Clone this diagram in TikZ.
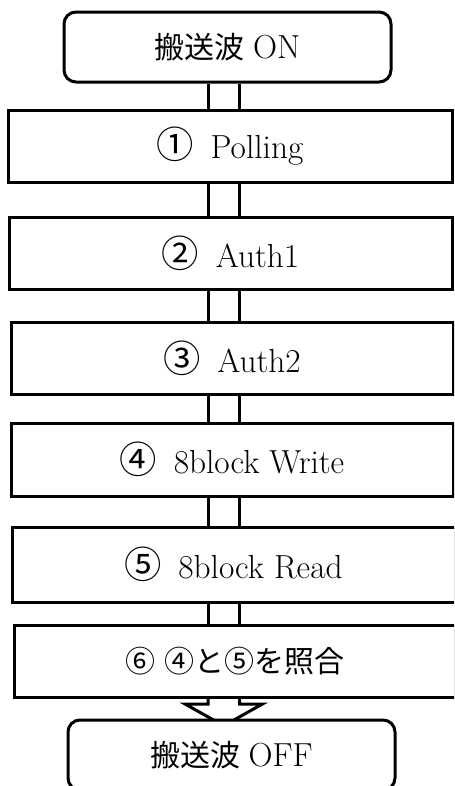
\documentclass[tikz,border=0pt]{standalone}
\usepackage{fontspec}
\newfontfamily\cjk{Noto Sans CJK JP}
\newcommand{\cnum}[1]{{\cjk\fontsize{28}{30}\selectfont #1}}
\pgfdeclarelayer{bg}
\pgfsetlayers{bg,main}
\tikzset{
  px/.style={x=0.75pt,y=-0.75pt},
  stepbox/.style={draw,fill=white,line width=2.25pt,inner sep=0pt,
    minimum height=#1*0.75pt,font=\fontsize{25}{28}\selectfont},
  endbox/.style={stepbox=70,rounded corners=9pt,minimum width=327*0.75pt},
  conn/.style={line width=2.25pt,line join=miter}
}
\begin{document}
\begin{tikzpicture}[px]
\clip (0,0) rectangle (454,786);
% start / end terminals
\node[endbox] (on)  at (227.5,47)  {{\cjk\fontsize{22.5}{27}\selectfont 搬送波}\hspace{0.25em}ON};
\node[endbox] (off) at (231.5,755) {{\cjk\fontsize{22.5}{27}\selectfont 搬送波}\hspace{0.25em}OFF};
% process steps
\node[stepbox=72,minimum width=444*0.75pt] (b1) at (230,146)   {\cnum{①}\hspace{0.5em}Polling};
\node[stepbox=72,minimum width=443*0.75pt] (b2) at (230.5,253) {\cnum{②}\hspace{0.5em}Auth1};
\node[stepbox=72,minimum width=442*0.75pt] (b3) at (232,358)   {\cnum{③}\hspace{0.5em}Auth2};
\node[stepbox=73,minimum width=442*0.75pt] (b4) at (232,459.5) {\cnum{④}\hspace{0.5em}8block Write};
\node[stepbox=75,minimum width=443*0.75pt] (b5) at (233.5,564.5) {\cnum{⑤}\hspace{0.5em}8block Read};
\node[stepbox=72,minimum width=441*0.75pt] (b6) at (234.5,661)
  {\cjk\fontsize{22.5}{27}\selectfont ⑥\hspace{0.3em}④と⑤を照合};
% double-line connectors
\coordinate (L) at (208,0);
\coordinate (R) at (239.5,0);
\coordinate (hd) at (0,704);
\coordinate (hl) at (185,704);
\coordinate (hr) at (262.5,704);
\coordinate (tip) at (223.75,725.7);
\begin{pgfonlayer}{bg}
  \fill[white] (0,0) rectangle (454,786);
  \foreach \a/\b in {on/b1,b1/b2,b2/b3,b3/b4,b4/b5,b5/b6}{
    \draw[conn] (\a.south -| L) -- (\b.north -| L);
    \draw[conn] (\a.south -| R) -- (\b.north -| R);
  }
  % hollow arrow into the end terminal
  \draw[conn] (b6.south -| L) -- (L |- hd) -- (hl) -- (tip) -- (hr) -- (R |- hd) -- (b6.south -| R);
\end{pgfonlayer}
\end{tikzpicture}
\end{document}
